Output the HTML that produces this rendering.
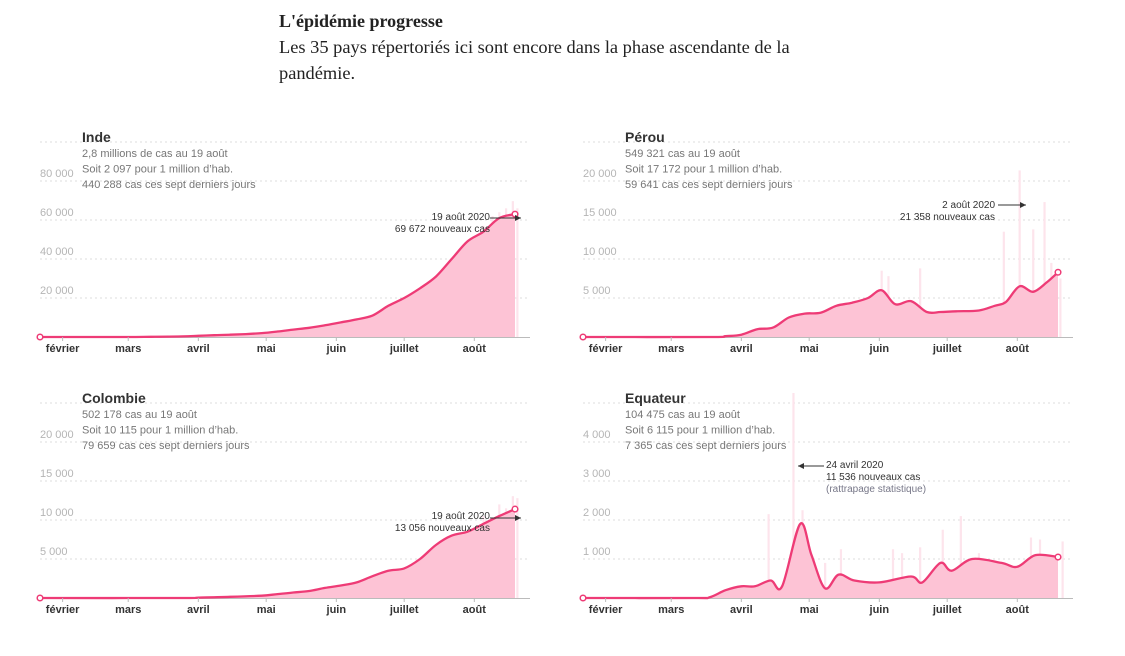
<!DOCTYPE html>
<html><head><meta charset="utf-8">
<style>
body{margin:0;background:#fff;width:1125px;height:651px;overflow:hidden}
svg text{font-family:"Liberation Sans",sans-serif}
.ser{font-family:"Liberation Serif",serif}
</style></head>
<body>
<svg id="s" width="1125" height="651">
<text x="279" y="27" class="ser" font-size="18" font-weight="bold" fill="#222">L'épidémie progresse</text>
<text x="279" y="53" class="ser" font-size="18.4" fill="#222">Les 35 pays répertoriés ici sont encore dans la phase ascendante de la</text>
<text x="279" y="79" class="ser" font-size="18.4" fill="#222">pandémie.</text>
</svg>
<script>
// Day index from 22 Jan 2020 (day 0) ... 19 Aug (day 210)
const monthLabels=["février","mars","avril","mai","juin","juillet","août"];
const monthDays=[10,39,70,100,131,161,192];

const indeDays=[0,35,49,63,70,77,84,91,98,105,112,119,126,133,140,147,154,161,168,175,182,189,196,203,210];
const indeVals=[0,0,100,300,600,900,1200,1500,2000,2800,3800,4700,6000,7500,9000,11000,16000,20000,25000,31000,40000,49000,54000,61000,63000];
const indeBarDays=[196,200,203,206,209,211];
const indeBarVals=[57000,62000,64000,66000,69672,66000];

const perouDays=[0,56,63,70,77,84,91,98,105,112,119,126,132,138,145,152,158,165,175,182,187,193,199,205,210];
const perouVals=[0,0,100,300,1000,1200,2500,3000,3100,4000,4400,5000,6000,4200,4600,3200,3200,3300,3400,4000,4500,6500,5800,7000,8300];
const perouBarDays=[132,135,149,186,193,199,204,207,211];
const perouBarVals=[8500,7800,8800,13500,21358,13800,17300,9500,7500];

const colDays=[0,63,70,84,98,105,112,119,126,133,140,147,154,161,168,175,182,189,196,203,210];
const colVals=[0,0,50,150,300,500,700,900,1300,1600,2000,2800,3500,3800,5000,6800,8000,8500,9500,10500,11400];
const colBarDays=[196,203,206,209,211];
const colBarVals=[10500,12000,11500,13056,12800];

const equDays=[0,49,56,63,70,76,83,88,96,101,107,113,120,131,145,150,158,163,172,185,192,200,210];
const equVals=[0,0,20,200,300,300,450,300,1900,1100,250,600,450,400,550,400,900,700,1000,900,800,1100,1050];
const equBarDays=[82,93,97,107,114,137,141,149,159,167,175,198,202,212];
const equBarVals=[2150,11536,2250,900,1250,1250,1150,1300,1750,2100,1150,1550,1500,1450];

const yTicksInde=["20 000","40 000","60 000","80 000"];
const yTicksPerou=["5 000","10 000","15 000","20 000"];
const yTicksCol=["5 000","10 000","15 000","20 000"];
const yTicksEqu=["1 000","2 000","3 000","4 000"];

const NS="http://www.w3.org/2000/svg";
const svg=document.getElementById('s');
function mk(tag,attrs,parent){const e=document.createElementNS(NS,tag);for(const k in attrs)e.setAttribute(k,attrs[k]);(parent||svg).appendChild(e);return e;}
function smooth(pts){let d="M"+pts[0][0]+","+pts[0][1];for(let i=0;i<pts.length-1;i++){const p0=pts[i-1]||pts[i],p1=pts[i],p2=pts[i+1],p3=pts[i+2]||p2;
const c1x=p1[0]+(p2[0]-p0[0])/6,c1y=p1[1]+(p2[1]-p0[1])/6,c2x=p2[0]-(p3[0]-p1[0])/6,c2y=p2[1]-(p3[1]-p1[1])/6;
d+=" C"+c1x.toFixed(1)+","+c1y.toFixed(1)+" "+c2x.toFixed(1)+","+c2y.toFixed(1)+" "+p2[0].toFixed(1)+","+p2[1].toFixed(1);}return d;}

function panel(o){
  const g=mk('g',{});
  
  
  const x0=o.x0,base=o.base,top=base-195;
  const xs=d=>x0+d*2.262;
  const ys=v=>Math.max(top-10,base-v/o.step*39);
  for(let i=1;i<=5;i++){const gl=mk('line',{x1:x0,x2:x0+490,y1:base-39*i,y2:base-39*i,stroke:'#ddd','stroke-dasharray':'2,3'},g);
    }
  o.ticks.forEach((t,i)=>{const tt=mk('text',{x:x0,y:base-39*(i+1)-4,'font-size':11,fill:'#b5b5b5'},g);tt.textContent=t;
    });
  o.barDays.forEach((d,i)=>{const b=mk('rect',{x:xs(d)-1,y:ys(o.barVals[i]),width:2.2,height:base-ys(o.barVals[i]),fill:'#fde4ec'},g);
    });
  const pts=o.days.map((d,i)=>[xs(d),ys(o.vals[i])]);
  const line=smooth(pts);
  const a=mk('path',{d:line+" L"+pts[pts.length-1][0]+","+base+" L"+x0+","+base+"Z",fill:'#fdc3d5'},g);
  
  const ax=mk('line',{x1:x0,x2:x0+490,y1:base+0.5,y2:base+0.5,stroke:'#bbb'},g);
  
  const l=mk('path',{d:line,fill:'none',stroke:'#ee3b76','stroke-width':2.3},g);
  
  [pts[0],pts[pts.length-1]].forEach(p=>{const c=mk('circle',{cx:p[0],cy:p[1],r:2.8,fill:'#fff',stroke:'#ee3b76','stroke-width':1.5},g);
    });
  monthDays.forEach((d,i)=>{const tk=mk('line',{x1:xs(d),x2:xs(d),y1:base,y2:base+4,stroke:'#bbb'},g);
    
    const t=mk('text',{x:xs(d),y:base+15,'font-size':11,'font-weight':'bold',fill:'#333','text-anchor':'middle'},g);t.textContent=monthLabels[i];
    });
  const ti=mk('text',{x:x0+42,y:base-195,'font-size':14,'font-weight':'bold',fill:'#333'},g);ti.textContent=o.title;
  
  o.info.forEach((s,i)=>{const t=mk('text',{x:x0+42,y:base-180+i*15.5,'font-size':11,fill:'#777'},g);t.textContent=s;
    });
  return g;
}
function ann(lines,x,y,anchor,arrow,colors){
  lines.forEach((s,i)=>{const t=mk('text',{x:x,y:y+i*12,'font-size':10,fill:colors&&colors[i]||'#333','text-anchor':anchor});t.textContent=s;
    });
  const l=mk('line',{x1:arrow[0],x2:arrow[2],y1:arrow[1],y2:arrow[1],stroke:'#333'});
  
  const dir=Math.sign(arrow[2]-arrow[0]);
  const h=mk('path',{d:`M${arrow[2]},${arrow[1]} l${-6*dir},-3 v6z`,fill:'#333'});
  
}
panel({name:'inde',x0:40,base:337,step:20000,ticks:yTicksInde,days:indeDays,vals:indeVals,barDays:indeBarDays,barVals:indeBarVals,title:'Inde',info:['2,8 millions de cas au 19 août','Soit 2 097 pour 1 million d\u2019hab.','440 288 cas ces sept derniers jours']});
panel({name:'perou',x0:583,base:337,step:5000,ticks:yTicksPerou,days:perouDays,vals:perouVals,barDays:perouBarDays,barVals:perouBarVals,title:'Pérou',info:['549 321 cas au 19 août','Soit 17 172 pour 1 million d\u2019hab.','59 641 cas ces sept derniers jours']});
panel({name:'colombie',x0:40,base:598,step:5000,ticks:yTicksCol,days:colDays,vals:colVals,barDays:colBarDays,barVals:colBarVals,title:'Colombie',info:['502 178 cas au 19 août','Soit 10 115 pour 1 million d\u2019hab.','79 659 cas ces sept derniers jours']});
panel({name:'equateur',x0:583,base:598,step:1000,ticks:yTicksEqu,days:equDays,vals:equVals,barDays:equBarDays,barVals:equBarVals,title:'Equateur',info:['104 475 cas au 19 août','Soit 6 115 pour 1 million d\u2019hab.','7 365 cas ces sept derniers jours']});
ann(['19 août 2020','69 672 nouveaux cas'],490,220,'end',[490,218,521]);
ann(['2 août 2020','21 358 nouveaux cas'],995,208,'end',[998,205,1026]);
ann(['19 août 2020','13 056 nouveaux cas'],490,519,'end',[490,518,521]);
ann(['24 avril 2020','11 536 nouveaux cas','(rattrapage statistique)'],826,468,'start',[824,466,798],['#333','#333','#778']);
</script>
</body></html>
